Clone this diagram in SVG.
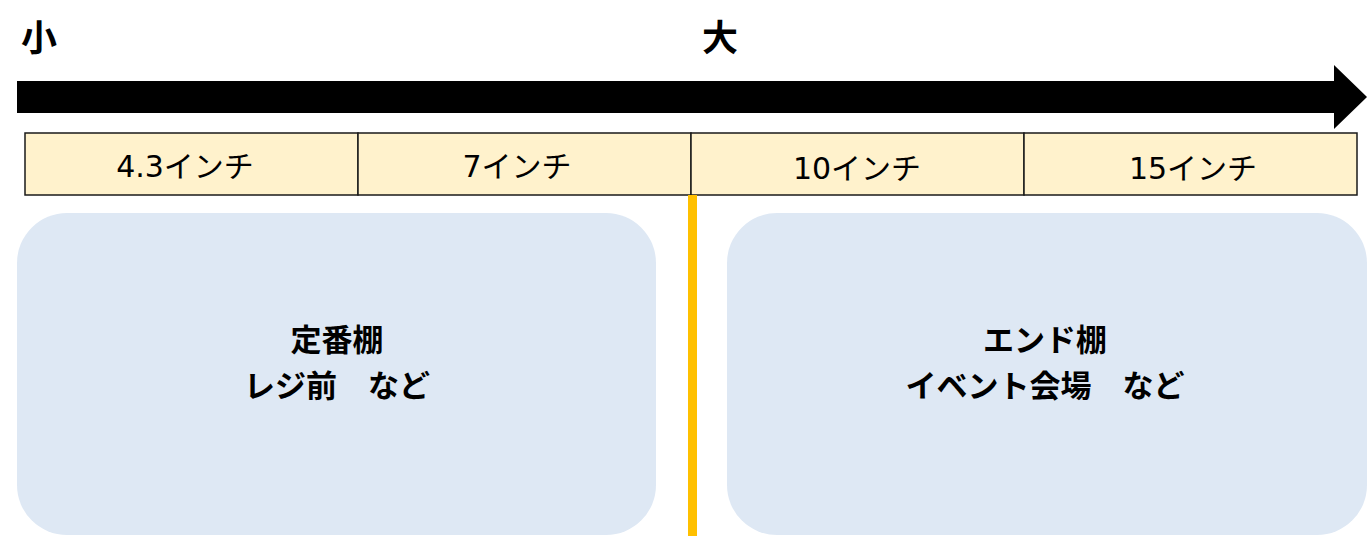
<svg xmlns="http://www.w3.org/2000/svg" width="1367" height="541" viewBox="0 0 1367 541">
<style>
.hd{font-family:"Noto Sans CJK JP",sans-serif;font-weight:bold;font-size:36px;fill:#000}
.cell{fill:#FFF2CC;stroke:#1a1a1a;stroke-width:1.5}
.ct{font-family:"DejaVu Sans","Noto Sans CJK JP",sans-serif;font-size:30px;fill:#000;text-anchor:middle}
.box{fill:#DEE8F4}
.bt{font-family:"Noto Sans CJK JP",sans-serif;font-weight:bold;font-size:31px;fill:#000;text-anchor:middle}
</style>
<rect width="1367" height="541" fill="#fff"/>
<g id="labels">
<text class="hd" x="21" y="51">小</text>
<text class="hd" x="702" y="51">大</text>
</g>
<g id="arrow">
<polygon points="17,81 1334,81 1334,65 1367,97 1334,129 1334,113 17,113" fill="#000"/>
</g>
<g id="scale">
<rect class="cell" x="25" y="133" width="333" height="62"/>
<rect class="cell" x="358" y="133" width="333" height="62"/>
<rect class="cell" x="691" y="133" width="333" height="62"/>
<rect class="cell" x="1024" y="133" width="333" height="62"/>
<text class="ct" x="185" y="177">4.3インチ</text>
<text class="ct" x="517" y="177">7インチ</text>
<text class="ct" x="857" y="179">10インチ</text>
<text class="ct" x="1193" y="179">15インチ</text>
</g>
<g id="divider">
<rect x="688" y="195" width="9" height="341" fill="#FFC000"/>
</g>
<g id="left-box">
<rect class="box" x="17" y="213" width="639" height="322" rx="50" ry="50"/>
<text class="bt" x="337" y="351">定番棚</text>
<text class="bt" x="337" y="397">レジ前　など</text>
</g>
<g id="right-box">
<rect class="box" x="727" y="213" width="640" height="322" rx="50" ry="50"/>
<text class="bt" x="1045" y="351">エンド棚</text>
<text class="bt" x="1045" y="397">イベント会場　など</text>
</g>
</svg>
